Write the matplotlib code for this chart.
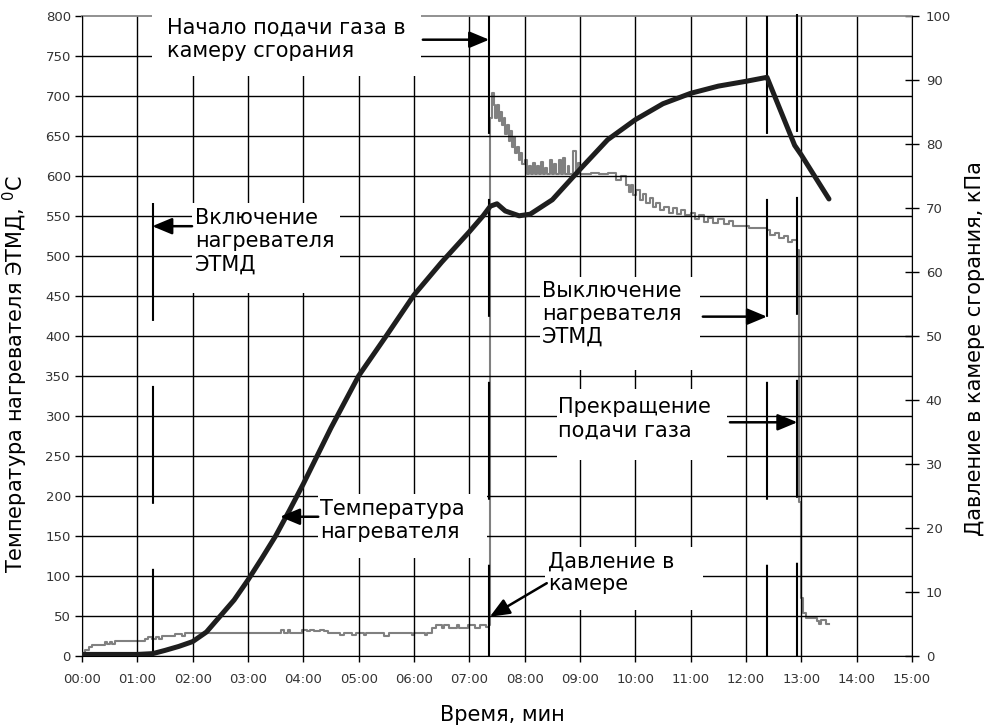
import matplotlib
matplotlib.use("Agg")
import matplotlib.pyplot as plt
from matplotlib.patches import Rectangle

plt.rcParams['font.family'] = ['DejaVu Sans']

# Температура нагревателя ЭТМД (время в минутах, °C)
temp_time = [0.0, 0.5, 1.0, 1.28, 1.5, 1.75, 2.0, 2.25, 2.5, 2.75, 3.0, 3.25, 3.5,
             3.75, 4.0, 4.25, 4.5, 5.0, 5.5, 6.0, 6.5, 7.0, 7.25, 7.38, 7.5, 7.65,
             7.9, 8.1, 8.5, 9.0, 9.5, 10.0, 10.5, 11.0, 11.5, 12.0, 12.38, 12.88,
             13.0, 13.5]
temp_value = [2, 2, 2, 3, 7, 12, 18, 30, 50, 70, 95, 122, 150,
              182, 215, 250, 285, 350, 400, 451, 492, 530, 550, 562, 565, 556,
              550, 552, 570, 608, 645, 670, 690, 703, 712, 718, 723, 638,
              626, 571]

# Давление в камере сгорания (время в минутах, кПа)
pres_time = [0.00, 0.05, 0.12, 0.18, 0.42, 0.46, 0.50, 0.54, 0.60, 1.14, 1.20,
             1.26, 1.33, 1.40, 1.45, 1.68, 1.80, 1.87, 3.60, 3.66, 3.72, 3.76,
             3.98, 4.06, 4.12, 4.20, 4.30, 4.38, 4.45, 4.66, 4.74, 4.88, 4.96,
             5.10, 5.14, 5.45, 5.55, 5.96, 6.00, 6.20, 6.23, 6.33, 6.40, 6.50,
             6.55, 6.63, 6.78, 6.82, 6.98, 7.10, 7.20, 7.30, 7.35,
             7.37, 7.38, 7.41, 7.44, 7.47, 7.50, 7.53, 7.56, 7.59, 7.62, 7.65,
             7.68, 7.71, 7.74, 7.77, 7.80, 7.83, 7.86, 7.89, 7.92, 7.96, 8.00,
             8.04, 8.08, 8.11, 8.15, 8.18, 8.22, 8.26, 8.30, 8.33, 8.37, 8.40,
             8.46, 8.49, 8.53, 8.56, 8.62, 8.65, 8.70, 8.73, 8.78, 8.81, 8.88,
             8.92, 8.96, 9.00, 9.20, 9.35, 9.50, 9.66, 9.75, 9.84, 9.88, 9.92,
             9.96, 10.02, 10.08, 10.14, 10.20, 10.26, 10.32, 10.38, 10.45,
             10.52, 10.60, 10.68, 10.75, 10.82, 10.90, 11.00, 11.08, 11.15,
             11.25, 11.32, 11.40, 11.50, 11.60, 11.70, 11.77, 11.95, 12.05,
             12.20, 12.38, 12.44, 12.52, 12.60, 12.68, 12.76, 12.84, 12.92,
             12.95, 13.00, 13.03, 13.08, 13.28, 13.32, 13.36, 13.44, 13.50]
pres_value = [0.0, 1.0, 1.4, 1.7, 2.2, 1.8, 2.2, 1.8, 2.4, 2.7, 2.9,
              2.7, 2.9, 2.6, 3.1, 3.4, 3.1, 3.65, 4.1, 3.65, 4.0, 3.65,
              4.1, 3.9, 4.1, 3.9, 4.1, 3.9, 3.65, 3.3, 3.65, 3.3, 3.65,
              3.3, 3.65, 3.2, 3.65, 3.3, 3.65, 3.3, 3.65, 4.3, 4.8, 4.3,
              4.8, 4.3, 4.8, 4.3, 4.8, 4.3, 4.8, 4.5, 4.8,
              60.0, 84.0, 87.9, 86.0, 84.0, 86.0, 83.5, 85.0, 83.0, 84.0, 81.5,
              83.0, 80.5, 82.0, 79.5, 81.0, 78.5, 79.5, 77.5, 78.5, 76.8, 77.5,
              75.2, 76.5, 75.2, 77.0, 75.2, 76.5, 75.2, 77.2, 75.2, 76.2, 75.2,
              77.5, 75.2, 76.8, 75.2, 77.5, 75.2, 77.8, 75.2, 76.5, 75.2, 78.8,
              75.2, 77.0, 75.3, 75.5, 75.2, 75.5, 74.4, 75.0, 73.6, 72.5, 73.5,
              72.0, 72.8, 71.2, 72.2, 70.8, 71.5, 70.2, 70.8, 69.6,
              70.2, 69.2, 70.0, 69.0, 69.6, 68.9, 69.2, 68.3, 68.8,
              67.8, 68.4, 67.6, 68.2, 67.4, 67.9, 67.1, 67.2, 66.8,
              66.9, 66.6, 65.8, 66.1, 65.3, 65.6, 64.6, 64.9, 63.4,
              24.0, 9.0, 6.7, 6.0, 5.5, 5.0, 5.6, 5.0, 5.0]

x_ticks = list(range(16))
x_labels = ['%02d:00' % m for m in x_ticks]

# моменты событий (мин) и верх вертикальной отметки (°C)
event_time = [1.28, 7.36, 12.38, 12.93]
event_top = [566, 800, 800, 802]

fig = plt.figure(figsize=(9.84, 7.26), dpi=100)
ax = fig.add_axes([0.0833, 0.0964, 0.8435, 0.882])
ax2 = ax.twinx()
ax.set_zorder(ax2.get_zorder() + 1)
ax.patch.set_visible(False)

ax.set_xlim(0, 15)
ax.set_ylim(0, 800)
ax2.set_ylim(0, 100)
ax.set_xticks(x_ticks)
ax.set_xticklabels(x_labels)
ax.set_yticks(range(0, 801, 50))
ax2.set_yticks(range(0, 101, 10))

ax.set_axisbelow(True)
ax.grid(True, color='black', linewidth=1.0)
# верхнюю линию сетки заменяет серая рамка
ax.yaxis.get_gridlines()[-1].set_visible(False)

for name in ['left', 'bottom', 'right']:
    ax.spines[name].set_color('black')
ax.spines['top'].set_visible(False)
ax.axhline(800, color='#888888', linewidth=1.3, zorder=0.6, clip_on=False)
for sp in ax2.spines.values():
    sp.set_visible(False)

ax.tick_params(axis='y', direction='out', length=5, width=1, pad=3,
               labelsize=9.5, labelcolor='#333333')
ax.tick_params(axis='x', direction='out', length=4, width=1, pad=8,
               labelsize=9.5, labelcolor='#333333')
ax2.tick_params(axis='y', direction='inout', length=10, width=1, pad=5,
                labelsize=9.5, labelcolor='#333333')

ax.set_xlabel('Время, мин', fontsize=15)
ax.xaxis.set_label_coords(0.506, -0.077)
ax.set_ylabel('Температура нагревателя ЭТМД, $^0$C', fontsize=15)
ax.yaxis.set_label_coords(-0.063, 0.44)
ax2.set_ylabel('Давление в камере сгорания, кПа', fontsize=15)
ax2.yaxis.set_label_coords(1.064, 0.48)

# кривые
ax2.plot(pres_time, pres_value, color='#808080', linewidth=1.5,
         drawstyle='steps-post')
ax.plot(temp_time, temp_value, color='#1e1e1e', linewidth=3.6,
        solid_joinstyle='round', solid_capstyle='round', zorder=4)

# вертикальные отметки событий
for t, top in zip(event_time, event_top):
    ax.plot([t, t], [top, 0], color='black', linewidth=1.5,
            linestyle=(0, (56.6, 31.2)), zorder=3, clip_on=False)

# подложки под подписи
boxes = [
    (1.99, 454, 2.67, 112),
    (4.27, 122, 3.05, 80),
    (8.37, 57, 2.85, 79),
    (8.28, 357, 2.89, 117),
    (8.58, 245, 3.08, 88),
]
for x0, y0, w, h in boxes:
    ax.add_patch(Rectangle((x0, y0), w, h, facecolor='white',
                           edgecolor='none', zorder=1.5))

# верхняя подпись выходит за рамку, поэтому у неё своя подложка
ax.text(1.54, 797, 'Начало подачи газа в\nкамеру сгорания', fontsize=15,
        ha='left', va='top', zorder=5, clip_on=False,
        bbox=dict(boxstyle='square,pad=0.72', facecolor='white',
                  edgecolor='none'))

labels = [
    (2.04, 560, 'Включение\nнагревателя\nЭТМД'),
    (4.30, 196, 'Температура\nнагревателя'),
    (8.42, 131, 'Давление в\nкамере'),
    (8.31, 469, 'Выключение\nнагревателя\nЭТМД'),
    (8.60, 323, 'Прекращение\nподачи газа'),
]
for x0, y0, s in labels:
    ax.text(x0, y0, s, fontsize=15, ha='left', va='top', zorder=5,
            clip_on=False)

arrows = [
    ((6.16, 770), (7.36, 770)),
    ((1.99, 537), (1.27, 537)),
    ((4.27, 174), (3.58, 174)),
    ((8.40, 91), (7.37, 49)),
    ((11.22, 424), (12.38, 424)),
    ((11.71, 292), (12.93, 292)),
]
for tail, tip in arrows:
    ax.annotate('', xy=tip, xytext=tail, zorder=5,
                arrowprops=dict(arrowstyle='-|>,head_length=1.2,head_width=0.5',
                                color='black', lw=1.8, shrinkA=0, shrinkB=0))

fig.savefig('out.png', dpi=100)
